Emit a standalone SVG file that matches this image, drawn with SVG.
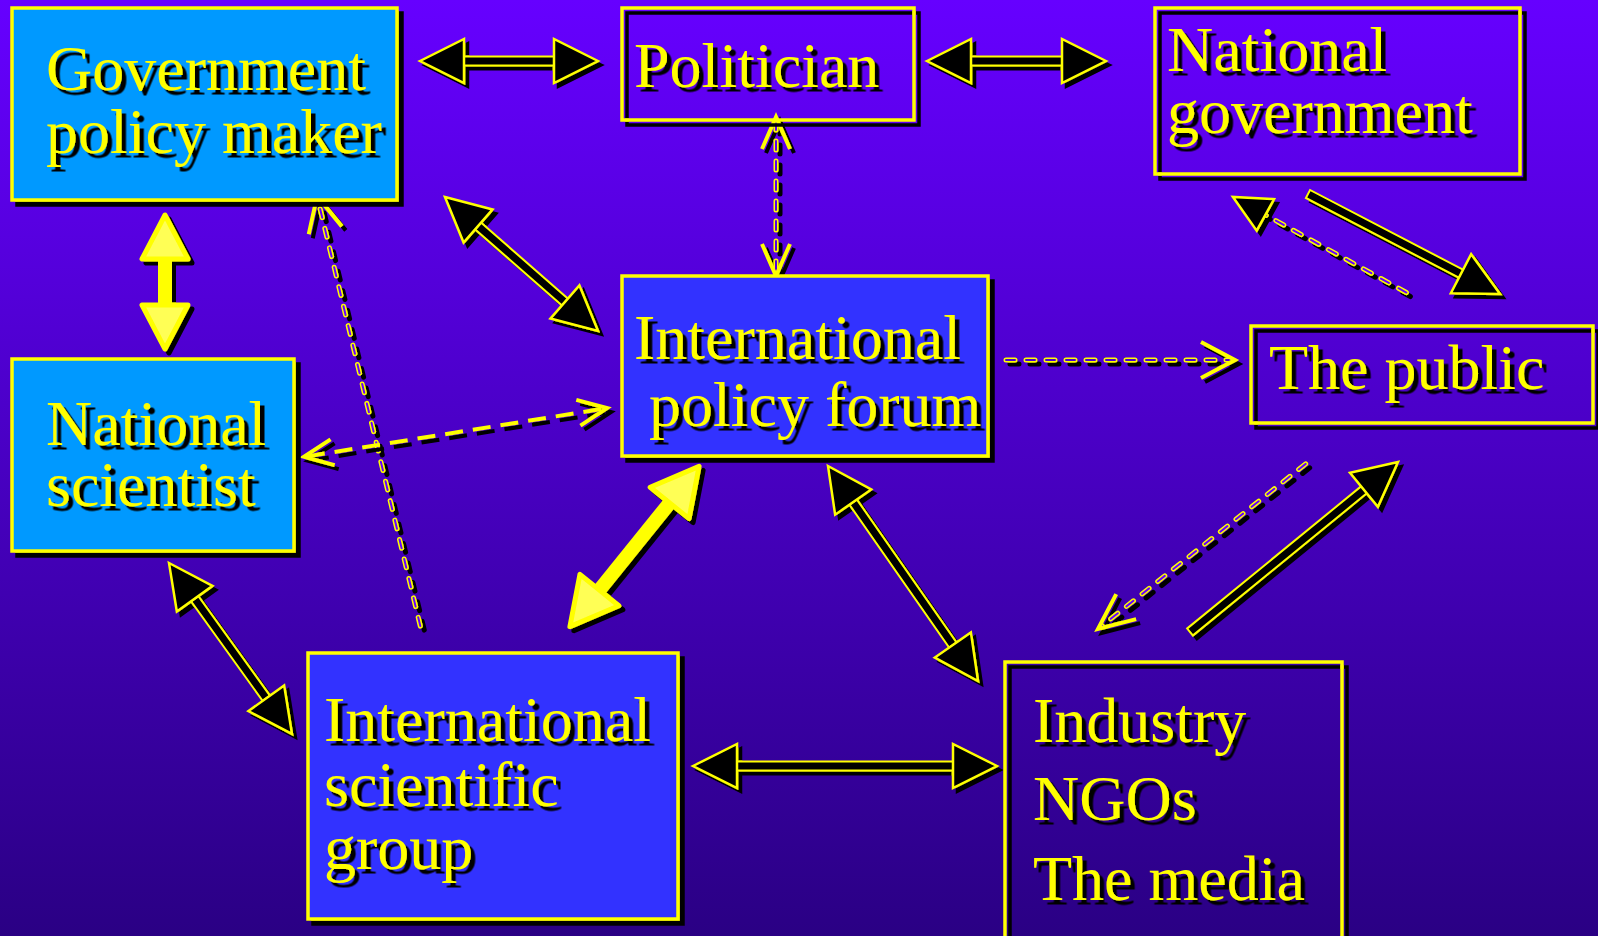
<svg xmlns="http://www.w3.org/2000/svg" width="1598" height="936" viewBox="0 0 1598 936">
<defs>
<linearGradient id="bg" gradientUnits="userSpaceOnUse" x1="0" y1="0" x2="0" y2="936">
<stop offset="0" stop-color="#6600ff"/>
<stop offset="1" stop-color="#2a0084"/>
</linearGradient>
<filter id="sh" filterUnits="userSpaceOnUse" x="-100" y="-100" width="1800" height="1200">
<feDropShadow dx="4" dy="4" stdDeviation="0" flood-color="#000" flood-opacity="1"/>
</filter>
<filter id="tsh" filterUnits="userSpaceOnUse" x="-100" y="-100" width="1800" height="1200">
<feDropShadow dx="4.5" dy="4.5" stdDeviation="0" flood-color="#000" flood-opacity="1"/>
</filter>
<filter id="bsh" filterUnits="userSpaceOnUse" x="-100" y="-100" width="1800" height="1200">
<feDropShadow dx="5" dy="5" stdDeviation="0" flood-color="#000" flood-opacity="1"/>
</filter>
<style>
.box{stroke:#ffff00;stroke-width:3.5}
.lb{fill:#0099ff}
.ib{fill:#3333ff}
.ob{fill:none}
.t{font-family:"Liberation Serif","Times New Roman",serif;font-size:64px;fill:#ffff00}
.bh{fill:#000;stroke:#ffff00;stroke-width:2.5}
.bs{fill:#000;stroke:#ffff00;stroke-width:2}
.dy{stroke:#ffff00;stroke-width:5;stroke-dasharray:9 11;stroke-linecap:round;fill:none}
.di{stroke:url(#bg);stroke-width:2;stroke-dasharray:9 11;stroke-linecap:round;fill:none}
.v{fill:none;stroke:#ffff00;stroke-width:4}
.yd{stroke:#ffff00;stroke-width:4;stroke-dasharray:18 10;fill:none}
.ys{fill:#ffff00}
.yh{fill:#ffff55;stroke:#ffff00;stroke-width:5;stroke-linejoin:round}
</style>
</defs>
<rect x="0" y="0" width="1598" height="936" fill="url(#bg)"/>

<g id="connectors">
<!-- A: Gov policy maker <-> Politician -->
<g filter="url(#sh)"><g transform="translate(420 61)">
<rect class="bs" x="44" y="-4.5" width="90" height="9"/>
<polygon class="bh" points="0,0 44,-22 44,22"/>
<polygon class="bh" points="178,0 134,-22 134,22"/>
</g></g>
<!-- B: Politician <-> National government -->
<g filter="url(#sh)"><g transform="translate(927 61)">
<rect class="bs" x="44" y="-4.5" width="91" height="9"/>
<polygon class="bh" points="0,0 44,-22 44,22"/>
<polygon class="bh" points="179,0 135,-22 135,22"/>
</g></g>
<!-- C: Gov policy maker <-> International policy forum -->
<g filter="url(#sh)"><g transform="translate(445 197) rotate(41.21)">
<rect class="bs" x="44" y="-4.5" width="115.4" height="9"/>
<polygon class="bh" points="0,0 44,-22 44,22"/>
<polygon class="bh" points="203.4,0 159.4,-22 159.4,22"/>
</g></g>
<!-- D: Politician <-> International policy forum (dashed) -->
<g filter="url(#sh)">
<line class="dy" x1="776" y1="121" x2="776" y2="272"/>
<line class="di" x1="776" y1="121" x2="776" y2="272"/>
<polyline class="v" points="762,149 776,117 790,149"/>
<polyline class="v" points="762,244 776,276 790,244"/>
</g>
<!-- E: International scientific group -> Gov policy maker (dashed) -->
<g filter="url(#sh)"><g transform="translate(421 629) rotate(-103.5)">
<line class="dy" x1="3" y1="0" x2="438" y2="0"/>
<line class="di" x1="3" y1="0" x2="438" y2="0"/>
<polyline class="v" points="410,-17 445,0 410,17"/>
</g></g>
<!-- F: Gov policy maker <-> National scientist (thick yellow) -->
<g filter="url(#sh)">
<rect class="ys" x="158" y="256" width="14" height="52"/>
<polygon class="yh" points="165,215 142,259 188,259"/>
<polygon class="yh" points="165,349 142,305 188,305"/>
</g>
<!-- G: National scientist <-> International policy forum (dashed) -->
<g filter="url(#sh)"><g transform="translate(303 457) rotate(-9.13)">
<line class="yd" x1="4" y1="0" x2="305" y2="0"/>
<polyline class="v" points="30,-13 1,0 30,13"/>
<polyline class="v" points="278.9,-13 307.9,0 278.9,13"/>
</g></g>
<!-- H: International policy forum -> The public (dashed) -->
<g filter="url(#sh)">
<line class="dy" x1="1006" y1="360" x2="1230" y2="360"/>
<line class="di" x1="1006" y1="360" x2="1230" y2="360"/>
<polyline class="v" points="1201,342 1235,360 1201,378"/>
</g>
<!-- I: National government -> The public -->
<g filter="url(#sh)"><g transform="translate(1308 194) rotate(27.51)">
<rect class="bs" x="0" y="-4.5" width="174" height="9"/>
<polygon class="bh" points="216.5,0 172.5,-22 172.5,22"/>
</g></g>
<!-- J: The public -> National government (dashed) -->
<g filter="url(#sh)"><g transform="translate(1409 294) rotate(208.86)">
<line class="dy" x1="3" y1="0" x2="166" y2="0"/>
<line class="di" x1="3" y1="0" x2="166" y2="0"/>
<polygon class="bh" points="201,0 164,-18 164,18"/>
</g></g>
<!-- K: The public -> Industry (dashed) -->
<g filter="url(#sh)"><g transform="translate(1308 462) rotate(141.51)">
<line class="dy" x1="3" y1="0" x2="264" y2="0"/>
<line class="di" x1="3" y1="0" x2="264" y2="0"/>
<polyline class="v" points="232.3,-16 268.3,0 232.3,16"/>
</g></g>
<!-- L: Industry -> The public -->
<g filter="url(#sh)"><g transform="translate(1190 632) rotate(-39.26)">
<rect class="bs" x="0" y="-4.5" width="226" height="9"/>
<polygon class="bh" points="268.6,0 224.6,-22 224.6,22"/>
</g></g>
<!-- M: International policy forum <-> Industry -->
<g filter="url(#sh)"><g transform="translate(828 466) rotate(55.10)">
<rect class="bs" x="44" y="-4.5" width="174.2" height="9"/>
<polygon class="bh" points="0,0 44,-22 44,22"/>
<polygon class="bh" points="262.2,0 218.2,-22 218.2,22"/>
</g></g>
<!-- N: International policy forum <-> International scientific group (thick yellow) -->
<g filter="url(#sh)"><g transform="translate(701 464) rotate(128.87)">
<rect class="ys" x="46" y="-7" width="119.9" height="14"/>
<polygon class="yh" points="3,0 50,-25 50,25"/>
<polygon class="yh" points="208.9,0 161.9,-25 161.9,25"/>
</g></g>
<!-- O: National scientist <-> International scientific group -->
<g filter="url(#sh)"><g transform="translate(169 563) rotate(54.27)">
<rect class="bs" x="44" y="-4.5" width="122.6" height="9"/>
<polygon class="bh" points="0,0 44,-22 44,22"/>
<polygon class="bh" points="210.6,0 166.6,-22 166.6,22"/>
</g></g>
<!-- P: International scientific group <-> Industry -->
<g filter="url(#sh)"><g transform="translate(693 766)">
<rect class="bs" x="44" y="-4.5" width="216" height="9"/>
<polygon class="bh" points="0,0 44,-22 44,22"/>
<polygon class="bh" points="304,0 260,-22 260,22"/>
</g></g>
</g>

<g id="node-gov-policy-maker">
<rect class="box lb" filter="url(#bsh)" x="12" y="8" width="385" height="192"/>
<text class="t" filter="url(#tsh)"><tspan x="46" y="90">Government</tspan><tspan x="46" y="153">policy maker</tspan></text>
</g>
<g id="node-politician">
<rect class="box ob" filter="url(#bsh)" x="622" y="8" width="292" height="112"/>
<text class="t" filter="url(#tsh)" x="634" y="87">Politician</text>
</g>
<g id="node-national-government">
<rect class="box ob" filter="url(#bsh)" x="1155" y="8" width="365" height="166"/>
<text class="t" filter="url(#tsh)"><tspan x="1167" y="71">National</tspan><tspan x="1167" y="133">government</tspan></text>
</g>
<g id="node-international-policy-forum">
<rect class="box ib" filter="url(#bsh)" x="622" y="276" width="366" height="180"/>
<text class="t" filter="url(#tsh)"><tspan x="634" y="359">International</tspan><tspan x="649" y="426">policy forum</tspan></text>
</g>
<g id="node-the-public">
<rect class="box ob" filter="url(#bsh)" x="1251" y="326" width="342" height="97"/>
<text class="t" filter="url(#tsh)" x="1269" y="389">The public</text>
</g>
<g id="node-national-scientist">
<rect class="box lb" filter="url(#bsh)" x="12" y="359" width="282" height="192"/>
<text class="t" filter="url(#tsh)"><tspan x="46" y="445">National</tspan><tspan x="46" y="506">scientist</tspan></text>
</g>
<g id="node-international-scientific-group">
<rect class="box ib" filter="url(#bsh)" x="308" y="653" width="370" height="266"/>
<text class="t" filter="url(#tsh)"><tspan x="324" y="741">International</tspan><tspan x="324" y="806">scientific</tspan><tspan x="324" y="869">group</tspan></text>
</g>
<g id="node-industry-ngos-media">
<rect class="box ob" filter="url(#bsh)" x="1005" y="662" width="337" height="278"/>
<text class="t" filter="url(#tsh)"><tspan x="1033" y="742">Industry</tspan><tspan x="1033" y="820">NGOs</tspan><tspan x="1033" y="900">The media</tspan></text>
</g>
</svg>
